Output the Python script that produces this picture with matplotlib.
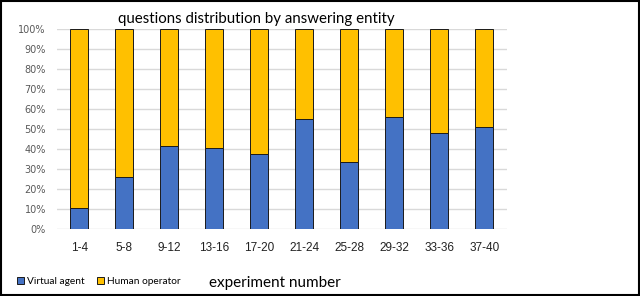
import numpy as np
import matplotlib.pyplot as plt
from matplotlib.patches import Rectangle

groups = ['1-4', '5-8', '9-12', '13-16', '17-20', '21-24', '25-28', '29-32', '33-36', '37-40']
virtual_agent = [10.4, 26.0, 41.2, 40.2, 37.6, 55.2, 33.3, 56.1, 47.9, 50.9]
human_operator = [100 - v for v in virtual_agent]

fig = plt.figure(figsize=(6.4, 2.96), dpi=100)
ax = fig.add_axes([0.089, 0.228, 0.703, 0.673])

x = np.arange(len(groups))
ax.bar(x, virtual_agent, width=0.4, color='#4472C4', edgecolor='#1a1a1a', linewidth=0.7,
       label='Virtual agent', zorder=3)
ax.bar(x, human_operator, width=0.4, bottom=virtual_agent, color='#FFC000', edgecolor='#1a1a1a',
       linewidth=0.7, label='Human operator', zorder=3)

ax.set_xlim(-0.5, len(groups) - 0.5)
ax.set_ylim(0, 100)
ax.set_yticks(range(0, 101, 10))
ax.set_yticklabels([f'{v}%' for v in range(0, 101, 10)], fontsize=7, color='#595959')
ax.set_xticks(x)
ax.set_xticklabels(groups, fontsize=8.5, color='#222222', fontfamily='Liberation Sans')
ax.tick_params(length=0, pad=8)
ax.tick_params(axis='x', pad=10)
ax.grid(axis='y', color='#d9d9d9', linewidth=1, zorder=0)
for s in ax.spines.values():
    s.set_visible(False)

fig.text(0.40, 0.937, 'questions distribution by answering entity', ha='center', va='center',
         fontsize=10.8, fontfamily='Lato')
fig.text(0.43, 0.045, 'experiment number', ha='center', va='center', fontsize=11, fontfamily='Lato')

fig.legend(loc='center left', bbox_to_anchor=(0.012, 0.048), ncol=2, frameon=False,
           prop={'family': 'Lato', 'size': 7.3},
           handlelength=0.7, handleheight=0.7, handletextpad=0.3, columnspacing=1.2)

fig.patches.append(Rectangle((0.002, 0.003), 0.996, 0.994, transform=fig.transFigure,
                             fill=False, edgecolor='black', linewidth=1.5))

fig.savefig('out.png', dpi=100)
